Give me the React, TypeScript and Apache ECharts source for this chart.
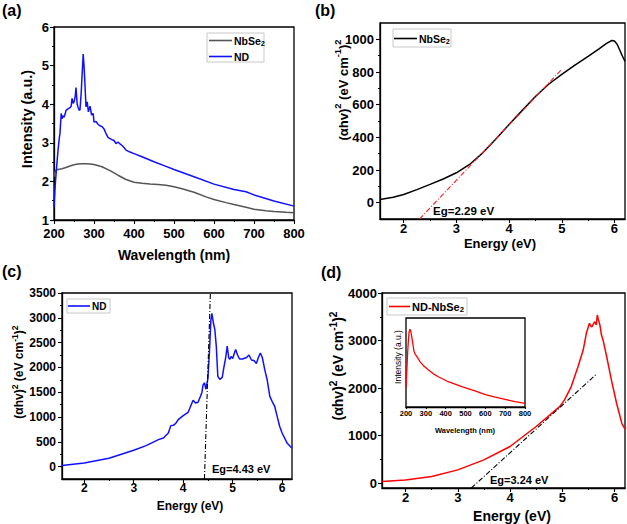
import React, { useEffect, useRef } from "react";
import * as echarts from "echarts";

const FONT = "'Liberation Sans', Arial, Helvetica, sans-serif";

// ---------- (a) absorbance spectra ----------
const aNbSe2X = [200, 203, 206, 210, 220, 230, 240, 250, 260, 270, 280, 290, 300, 320, 340, 360, 380, 400, 420, 440, 460, 480, 500, 520, 550, 580, 600, 630, 650, 680, 700, 730, 750, 780, 800];
const aNbSe2Y = [2.12, 2.26, 2.3, 2.31, 2.33, 2.36, 2.4, 2.43, 2.45, 2.46, 2.46, 2.45, 2.44, 2.38, 2.28, 2.16, 2.05, 1.98, 1.95, 1.93, 1.92, 1.9, 1.86, 1.81, 1.72, 1.6, 1.53, 1.45, 1.4, 1.33, 1.28, 1.24, 1.22, 1.2, 1.19];
const aNDX = [200, 203, 206, 210, 213, 215, 218, 220, 222, 225, 228, 230, 235, 240, 243, 245, 248, 250, 253, 255, 258, 260, 263, 265, 268, 270, 272, 273, 275, 277, 280, 283, 286, 290, 294, 298, 300, 305, 310, 315, 320, 325, 330, 335, 340, 345, 350, 355, 360, 365, 370, 375, 380, 390, 400, 420, 450, 480, 500, 550, 600, 650, 680, 700, 750, 800];
const aNDY = [1.34, 1.9, 2.3, 2.8, 3.1, 3.25, 3.76, 3.62, 3.7, 3.66, 3.75, 3.84, 3.88, 3.91, 3.95, 4.15, 4.02, 4.06, 4.2, 4.43, 4.0, 3.93, 3.84, 3.86, 4.3, 4.71, 5.1, 5.3, 5.0, 4.6, 3.93, 4.06, 3.8, 3.95, 3.72, 3.76, 3.54, 3.55, 3.48, 3.44, 3.42, 3.36, 3.24, 3.14, 3.11, 3.08, 3.06, 2.98, 3.02, 2.97, 2.93, 2.88, 2.81, 2.76, 2.72, 2.64, 2.51, 2.39, 2.31, 2.12, 1.93, 1.79, 1.73, 1.65, 1.49, 1.36];

// ---------- (b) NbSe2 Tauc plot ----------
const bX = [1.55, 1.8, 2.0, 2.25, 2.5, 2.75, 3.0, 3.25, 3.5, 3.75, 4.0, 4.25, 4.5, 4.75, 5.0, 5.25, 5.5, 5.7, 5.85, 5.95, 6.0, 6.05, 6.1, 6.15, 6.2];
const bY = [20, 33, 50, 80, 112, 145, 183, 234, 305, 390, 478, 565, 650, 725, 785, 842, 895, 940, 975, 993, 990, 970, 935, 898, 865];
const bFitX = [2.3, 4.99];
const bFitY = [-100, 813];

// ---------- (c) ND Tauc plot ----------
const cX = [1.55, 2.0, 2.5, 3.0, 3.25, 3.5, 3.55, 3.6, 3.7, 3.75, 3.8, 3.85, 3.9, 4.0, 4.1, 4.15, 4.2, 4.25, 4.3, 4.35, 4.38, 4.4, 4.43, 4.46, 4.5, 4.53, 4.56, 4.58, 4.61, 4.64, 4.67, 4.7, 4.74, 4.79, 4.82, 4.86, 4.89, 4.92, 4.94, 4.97, 5.0, 5.06, 5.1, 5.14, 5.2, 5.28, 5.33, 5.38, 5.43, 5.48, 5.52, 5.56, 5.6, 5.65, 5.7, 5.75, 5.8, 5.85, 5.9, 5.95, 6.0, 6.1, 6.2];
const cY = [20, 74, 168, 329, 423, 544, 560, 578, 678, 826, 833, 870, 947, 1028, 1095, 1216, 1337, 1283, 1297, 1420, 1500, 1640, 1690, 1560, 1780, 2300, 2950, 3090, 2900, 2760, 2420, 1820, 1760, 1800, 1985, 2200, 2430, 2200, 2160, 2220, 2180, 2360, 2250, 2170, 2170, 2200, 2250, 2150, 2140, 2080, 2200, 2290, 2200, 1950, 1740, 1420, 1310, 1216, 1014, 813, 678, 477, 369];
const cFitX = [4.43, 4.55];
const cFitY = [-250, 3500];

// ---------- (d) ND-NbSe2 Tauc plot ----------
const dX = [1.55, 2.0, 2.5, 3.0, 3.5, 4.0, 4.5, 4.95, 5.04, 5.17, 5.3, 5.4, 5.46, 5.52, 5.55, 5.57, 5.6, 5.62, 5.65, 5.67, 5.69, 5.72, 5.75, 5.78, 5.85, 5.94, 6.04, 6.14, 6.2];
const dY = [35, 70, 140, 281, 491, 772, 1193, 1610, 1747, 2027, 2449, 2800, 3152, 3362, 3300, 3291, 3360, 3396, 3330, 3537, 3440, 3326, 3116, 3011, 2660, 2168, 1677, 1256, 1140];
const dFitX = [3.26, 5.66];
const dFitY = [-100, 2300];

// ---------- (d) inset absorbance ----------
const insetX = [200, 204, 208, 212, 216, 220, 224, 229, 235, 240, 245, 249, 260, 270, 290, 313, 340, 363, 413, 481, 548, 600, 650, 700, 750, 800];
const insetY = [0.22, 0.4, 0.6, 0.75, 0.85, 0.875, 0.85, 0.79, 0.7, 0.63, 0.6, 0.585, 0.55, 0.51, 0.46, 0.416, 0.37, 0.34, 0.284, 0.228, 0.18, 0.14, 0.11, 0.085, 0.06, 0.04];

// ---------- tick values ----------
const aXTicks = [200, 300, 400, 500, 600, 700, 800];
const aXMinor = [250, 350, 450, 550, 650, 750];
const aYTicks = [1, 2, 3, 4, 5, 6];
const aYMinor = [1.5, 2.5, 3.5, 4.5, 5.5];
const eTicks = [2, 3, 4, 5, 6];
const eMinor = [2.5, 3.5, 4.5, 5.5];
const bYTicks = [0, 200, 400, 600, 800, 1000];
const bYMinor = [100, 300, 500, 700, 900];
const cYTicks = [0, 500, 1000, 1500, 2000, 2500, 3000, 3500];
const cYMinor = [250, 750, 1250, 1750, 2250, 2750, 3250];
const dYTicks = [0, 1000, 2000, 3000, 4000];
const dYMinor = [500, 1500, 2500, 3500];
const insetXTicks = [200, 300, 400, 500, 600, 700, 800];
const insetXMinor = [250, 350, 450, 550, 650, 750];

const zip = (xs: number[], ys: number[]) => xs.map((x, i) => [x, ys[i]]);

type Spec = {
  grid: number; min: number; max: number; majors: number[]; minors: number[];
  fontSize: number; margin: number; labels?: boolean; tick?: number; line?: boolean;
};

function axisPair(s: Spec, position: string) {
  const base: any = {
    type: "value", gridIndex: s.grid, min: s.min, max: s.max, position,
    splitLine: { show: false }, silent: true,
  };
  const tl = s.tick ?? 4;
  const hasTicks = tl > 0;
  const main = {
    ...base,
    axisLine: { show: s.line !== false, onZero: false, lineStyle: { color: "#000", width: 1.3 } },
    axisTick: hasTicks
      ? { show: true, inside: false, length: tl, customValues: s.majors, lineStyle: { color: "#000", width: 1.1 } }
      : { show: false },
    axisLabel: s.labels === false
      ? { show: false }
      : {
          show: true, customValues: s.majors, fontSize: s.fontSize, fontWeight: "bold",
          color: "#000", fontFamily: FONT, margin: s.margin,
          formatter: (v: number) => String(v),
        },
  };
  const minor = {
    ...base,
    axisLine: { show: false, onZero: false },
    axisTick: hasTicks
      ? { show: true, inside: false, length: tl / 2, customValues: s.minors, lineStyle: { color: "#000", width: 1 } }
      : { show: false },
    axisLabel: { show: false },
  };
  return [main, minor];
}

const grids = [
  { left: 54, top: 27, width: 240, height: 193 },
  { left: 380, top: 23, width: 245, height: 196 },
  { left: 62, top: 293, width: 230, height: 186 },
  { left: 382, top: 293, width: 243, height: 195 },
  { left: 406, top: 318, width: 119, height: 89 },
];

const xSpecs: Spec[] = [
  { grid: 0, min: 200, max: 800, majors: aXTicks, minors: aXMinor, fontSize: 13, margin: 7 },
  { grid: 1, min: 1.55, max: 6.2, majors: eTicks, minors: eMinor, fontSize: 13, margin: 3 },
  { grid: 2, min: 1.55, max: 6.2, majors: eTicks, minors: eMinor, fontSize: 12, margin: 3 },
  { grid: 3, min: 1.55, max: 6.2, majors: eTicks, minors: eMinor, fontSize: 13, margin: 3 },
  { grid: 4, min: 200, max: 800, majors: insetXTicks, minors: insetXMinor, fontSize: 7.5, margin: 2, tick: 2 },
];
const ySpecs: Spec[] = [
  { grid: 0, min: 1, max: 6, majors: aYTicks, minors: aYMinor, fontSize: 13, margin: 5 },
  { grid: 1, min: -100, max: 1100, majors: bYTicks, minors: bYMinor, fontSize: 13, margin: 6 },
  { grid: 2, min: -250, max: 3500, majors: cYTicks, minors: cYMinor, fontSize: 12, margin: 6 },
  { grid: 3, min: -100, max: 4000, majors: dYTicks, minors: dYMinor, fontSize: 13, margin: 5 },
  { grid: 4, min: 0, max: 1, majors: [0, 1], minors: [0.5], fontSize: 7, margin: 2, labels: false, tick: 0, line: false },
];

function lineSeries(g: number, xs: number[], ys: number[], color: string, width = 1.5, type: any = "solid") {
  return {
    type: "line", xAxisIndex: g * 2, yAxisIndex: g * 2, data: zip(xs, ys), symbol: "none",
    showSymbol: false, lineStyle: { color, width, type }, itemStyle: { color }, silent: true,
    z: type === "solid" ? 3 : 4,
  };
}

function txt(x: number, y: number, text: string, size: number, opts: any = {}) {
  return {
    type: "text", x, y, z: 100, rotation: opts.rotation ?? 0,
    style: {
      text, fontSize: size, fontWeight: opts.weight ?? "bold", fontFamily: FONT, fill: "#000",
      align: opts.align ?? "center", verticalAlign: "middle", rich: opts.rich,
    },
  };
}

function tauc(fs: number) {
  const n = { fontSize: fs, fontWeight: "bold", fontFamily: FONT, fill: "#000", lineHeight: fs + 6 };
  const s = { fontSize: fs * 0.72, fontWeight: "bold", fontFamily: FONT, fill: "#000", verticalAlign: "top" };
  return {
    text: "{n|(\u03b1hv)}{s|2}{n| (eV cm}{s|-1}{n|)}{s|2}",
    rich: { n, s },
  };
}

function chem(fs: number, base: string) {
  const n = { fontSize: fs, fontWeight: "bold", fontFamily: FONT, fill: "#000", lineHeight: fs + 3 };
  const s = { fontSize: fs * 0.7, fontWeight: "bold", fontFamily: FONT, fill: "#000", verticalAlign: "top", padding: [fs * 0.55, 0, 0, 0] };
  return { text: `{n|${base}}{s|2}`, rich: { n, s } };
}

function legendBox(x: number, y: number, w: number, h: number) {
  return { type: "rect", z: 99, shape: { x, y, width: w, height: h }, style: { fill: "#fff", stroke: "#c8c8c8", lineWidth: 1 } };
}
function legendLine(x1: number, x2: number, y: number, color: string) {
  return { type: "line", z: 100, shape: { x1, y1: y, x2, y2: y }, style: { stroke: color, lineWidth: 1.6 } };
}

export default function App() {
  const ref = useRef<HTMLDivElement>(null);
  useEffect(() => {
    if (!ref.current) return;
    const chart = echarts.init(ref.current, undefined, { renderer: "svg" });
    const xAxis: any[] = [];
    const yAxis: any[] = [];
    xSpecs.forEach((s) => xAxis.push(...axisPair(s, "bottom")));
    ySpecs.forEach((s) => yAxis.push(...axisPair(s, "left")));

    const tA = tauc(13);
    const tC = tauc(12);
    const tD = tauc(14);
    const lgA1 = chem(10.5, "NbSe");
    const lgB = chem(10.5, "NbSe");
    const lgD = chem(11, "ND-NbSe");

    const option: any = {
      animation: false,
      color: ["#000000"],
      backgroundColor: "#fff",
      grid: grids.map((g, i) => ({
        ...g, show: true, borderColor: "#000", borderWidth: 1.3,
        backgroundColor: i === 4 ? "#fff" : "transparent", z: i === 4 ? 5 : 0,
      })),
      xAxis,
      yAxis,
      series: [
        lineSeries(0, aNbSe2X, aNbSe2Y, "#555555"),
        lineSeries(0, aNDX, aNDY, "#1010ff"),
        lineSeries(1, bX, bY, "#000000"),
        lineSeries(1, bFitX, bFitY, "#ff2020", 1.1, [5, 2, 1, 2]),
        lineSeries(2, cX, cY, "#1010ff"),
        lineSeries(2, cFitX, cFitY, "#000000", 1.1, [5, 2, 1, 2]),
        lineSeries(3, dX, dY, "#ff0000"),
        lineSeries(3, dFitX, dFitY, "#000000", 1.1, [5, 2, 1, 2]),
        { ...lineSeries(4, insetX, insetY, "#ff0000", 1.3), z: 10 },
      ],
      graphic: [
        // panel labels
        txt(2, 10, "(a)", 16, { align: "left" }),
        txt(315, 10, "(b)", 16, { align: "left" }),
        txt(2, 271, "(c)", 16, { align: "left" }),
        txt(321, 272, "(d)", 16, { align: "left" }),
        // axis titles
        txt(174, 255, "Wavelength (nm)", 14),
        txt(27, 119, "Intensity (a.u.)", 14.5, { rotation: Math.PI / 2 }),
        txt(500, 243, "Energy (eV)", 13),
        txt(343, 90, tA.text, 13, { rotation: Math.PI / 2, rich: tA.rich }),
        txt(190, 506, "Energy (eV)", 12),
        txt(19, 372, tC.text, 12, { rotation: Math.PI / 2, rich: tC.rich }),
        txt(512, 516, "Energy (eV)", 14),
        txt(338, 366, tD.text, 14, { rotation: Math.PI / 2, rich: tD.rich }),
        // inset titles
        txt(465, 430, "Wavelength (nm)", 7.5),
        txt(398, 357, "Intensity (a.u.)", 8.5, { rotation: Math.PI / 2, weight: "normal" }),
        // band gap labels
        txt(433, 211, "Eg=2.29 eV", 11.5, { align: "left" }),
        txt(212, 469, "Eg=4.43 eV", 11, { align: "left" }),
        txt(490, 480, "Eg=3.24 eV", 11, { align: "left" }),
        // legend (a)
        legendBox(207, 33, 57, 29),
        legendLine(209, 232, 40.5, "#555555"),
        txt(234, 40.5, lgA1.text, 10.5, { align: "left", rich: lgA1.rich }),
        legendLine(209, 232, 56.5, "#1010ff"),
        txt(234, 56.5, "ND", 10.5, { align: "left" }),
        // legend (b)
        legendBox(393, 29, 58, 18),
        legendLine(394, 417, 38.5, "#000000"),
        txt(419, 38.5, lgB.text, 10.5, { align: "left", rich: lgB.rich }),
        // legend (c)
        legendBox(67, 299, 43, 14),
        legendLine(68, 90, 306, "#1010ff"),
        txt(92, 306, "ND", 10, { align: "left" }),
        // legend (d)
        legendBox(387, 298, 80, 17),
        legendLine(389, 410, 306.5, "#ff0000"),
        txt(412, 306.5, lgD.text, 11, { align: "left", rich: lgD.rich }),
      ],
    };
    chart.setOption(option);
    return () => chart.dispose();
  }, []);
  return (
    <div
      ref={ref}
      style={{ position: "fixed", left: 0, top: 0, width: 627, height: 524, background: "#fff" }}
    />
  );
}
